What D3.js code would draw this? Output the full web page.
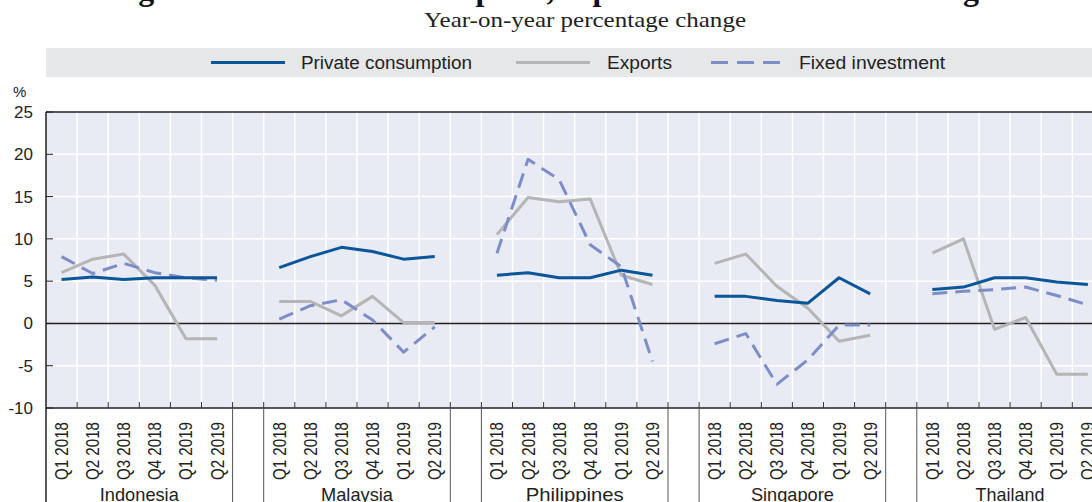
<!DOCTYPE html>
<html>
<head>
<meta charset="utf-8">
<script src="https://cdn.jsdelivr.net/npm/d3@7"></script>
<style>
  html, body { margin: 0; padding: 0; background: #fff; overflow: hidden; }
  svg { display: block; }
  .sans { font-family: "Liberation Sans", Arial, sans-serif; }
</style>
</head>
<body>
<svg id="chart" width="1092" height="502"></svg>
<script>
// ---------- data ----------
const countries = ["Indonesia", "Malaysia", "Philippines", "Singapore", "Thailand"];
const quarters = ["Q1 2018", "Q2 2018", "Q3 2018", "Q4 2018", "Q1 2019", "Q2 2019"];
const seriesNames = ["Private consumption", "Exports", "Fixed investment"];
const yTicks = [-10, -5, 0, 5, 10, 15, 20, 25];

// one row per country, in the order of `countries`
const privateConsumption = [
  [5.2, 5.5, 5.2, 5.4, 5.4, 5.4],
  [6.6, 7.9, 9.0, 8.5, 7.6, 7.9],
  [5.7, 6.0, 5.4, 5.4, 6.3, 5.7],
  [3.2, 3.2, 2.7, 2.4, 5.4, 3.5],
  [4.0, 4.3, 5.4, 5.4, 4.9, 4.6]
];
const exportsGrowth = [
  [6.0, 7.6, 8.2, 4.5, -1.8, -1.8],
  [2.6, 2.6, 0.9, 3.2, 0.1, 0.1],
  [10.5, 14.9, 14.4, 14.7, 5.7, 4.6],
  [7.1, 8.2, 4.4, 1.8, -2.1, -1.4],
  [8.3, 10.0, -0.7, 0.7, -6.0, -6.0]
];
const fixedInvestment = [
  [7.9, 5.9, 7.1, 6.0, 5.4, 5.1],
  [0.5, 2.1, 2.8, 0.4, -3.4, -0.4],
  [8.3, 19.4, 17.0, 9.3, 6.7, -4.5],
  [-2.4, -1.2, -7.2, -4.3, -0.2, -0.2],
  [3.5, 3.8, 4.0, 4.3, 3.3, 2.2]
];

// ---------- styles ----------
const colors = ["#0a5698", "#b5b5b5", "#7d8ec6"];
const dashes = [null, null, "15,8"];
const seriesData = [privateConsumption, exportsGrowth, fixedInvestment];
const legendTextWidths = [171, 65, 146];
const countryLabelWidths = [79, 72, 98, 83, 69];

// ---------- layout ----------
const svg = d3.select("#chart");
const plot = { left: 46, top: 112, bottom: 408 };
const slotW = 31.1;

// slots: 6 quarters per country, one empty slot between countries
const slots = [];
countries.forEach((c, ci) => {
  quarters.forEach(q => slots.push(c + "|" + q));
  if (ci < countries.length - 1) slots.push("gap" + ci);
});
const x = d3.scaleBand().domain(slots).range([plot.left, plot.left + slots.length * slotW]).padding(0);
const y = d3.scaleLinear().domain([-10, 25]).range([plot.bottom, plot.top]);
const plotRight = plot.left + slots.length * slotW;

// title (mostly cut off at top)
svg.append("text")
  .attr("x", 585).attr("y", 0)
  .attr("text-anchor", "middle")
  .attr("font-family", "Liberation Serif, serif")
  .attr("font-weight", "bold")
  .attr("font-size", 32)
  .attr("textLength", 950).attr("lengthAdjust", "spacingAndGlyphs")
  .attr("fill", "#111")
  .text("Figure 1.2. Private consumption, exports and fixed investment growth");

// subtitle
svg.append("text")
  .attr("x", 585).attr("y", 27)
  .attr("text-anchor", "middle")
  .attr("font-family", "Liberation Serif, serif")
  .attr("font-size", 22)
  .attr("textLength", 322).attr("lengthAdjust", "spacingAndGlyphs")
  .attr("fill", "#222")
  .text("Year-on-year percentage change");

// legend
svg.append("rect").attr("x", 46).attr("y", 48).attr("width", 1092 - 46 + 20).attr("height", 29).attr("fill", "#e6e7e9");
const legendItems = [
  { x1: 211, tx: 301 },
  { x1: 516, tx: 607 },
  { x1: 711, tx: 799 }
];
legendItems.forEach((it, i) => {
  svg.append("line")
    .attr("x1", it.x1).attr("x2", it.x1 + 74).attr("y1", 62.5).attr("y2", 62.5)
    .attr("stroke", colors[i]).attr("stroke-width", 3)
    .attr("stroke-dasharray", i === 2 ? "17,9" : null);
  svg.append("text").attr("class", "sans")
    .attr("x", it.tx).attr("y", 69)
    .attr("font-size", 18)
    .attr("textLength", legendTextWidths[i]).attr("lengthAdjust", "spacingAndGlyphs")
    .attr("fill", "#222")
    .text(seriesNames[i]);
});

// plot background
svg.append("rect")
  .attr("x", plot.left).attr("y", plot.top)
  .attr("width", plotRight - plot.left).attr("height", plot.bottom - plot.top)
  .attr("fill", "#e8eaf4");

// vertical grid lines at slot boundaries
const boundaries = slots.map(s => x(s)).slice(1).concat([plotRight]);
svg.append("g").selectAll("line").data(boundaries).join("line")
  .attr("x1", d => d).attr("x2", d => d)
  .attr("y1", plot.top).attr("y2", plot.bottom)
  .attr("stroke", "#fff").attr("stroke-width", 1.5);

// horizontal grid lines
svg.append("g").selectAll("line").data(yTicks.filter(v => v !== -10 && v !== 25 && v !== 0)).join("line")
  .attr("x1", plot.left).attr("x2", plotRight)
  .attr("y1", d => y(d)).attr("y2", d => y(d))
  .attr("stroke", "#fff").attr("stroke-width", 1.5);

// zero line
svg.append("line")
  .attr("x1", plot.left).attr("x2", plotRight)
  .attr("y1", y(0)).attr("y2", y(0))
  .attr("stroke", "#222").attr("stroke-width", 1.5);

// y axis
const yAxis = d3.axisLeft(y).tickValues(yTicks).tickSize(0).tickPadding(13).tickFormat(d => String(d));
const yg = svg.append("g").attr("transform", `translate(${plot.left},0)`).call(yAxis);
yg.select(".domain").remove();
yg.selectAll("text")
  .attr("font-family", "Liberation Sans, Arial, sans-serif")
  .attr("font-size", 17).attr("fill", "#222");
// inner tick marks
svg.append("g").selectAll("line").data(yTicks).join("line")
  .attr("x1", plot.left).attr("x2", plot.left + 7)
  .attr("y1", d => y(d)).attr("y2", d => y(d))
  .attr("stroke", "#222").attr("stroke-width", 1);

svg.append("text")
  .attr("x", 13).attr("y", 97)
  .attr("font-family", "Liberation Sans, Arial, sans-serif")
  .attr("font-size", 15).attr("fill", "#222")
  .text("%");

// frame: top and left, bottom axis
svg.append("line").attr("x1", plot.left).attr("x2", plotRight).attr("y1", plot.top).attr("y2", plot.top)
  .attr("stroke", "#222").attr("stroke-width", 1.5);
svg.append("line").attr("x1", plot.left).attr("x2", plot.left).attr("y1", plot.top).attr("y2", 502)
  .attr("stroke", "#222").attr("stroke-width", 1.5);

// x axis (bottom)
const xAxis = d3.axisBottom(x).tickValues(slots.filter(s => !s.startsWith("gap"))).tickSize(0).tickFormat(d => d.split("|")[1]);
const xg = svg.append("g").attr("transform", `translate(0,${plot.bottom})`).call(xAxis);
xg.select(".domain").attr("d", `M${plot.left},0H${plotRight}`).attr("stroke", "#222").attr("stroke-width", 1.5);
xg.selectAll(".tick text")
  .attr("font-family", "Liberation Sans, Arial, sans-serif")
  .attr("font-size", 18).attr("fill", "#222")
  .attr("transform", "rotate(-90)")
  .attr("text-anchor", "end")
  .attr("textLength", 58).attr("lengthAdjust", "spacingAndGlyphs")
  .attr("x", -14).attr("y", 0).attr("dy", "0.36em");

// small tick marks at slot boundaries (pointing up)
svg.append("g").selectAll("line").data(boundaries).join("line")
  .attr("x1", d => d).attr("x2", d => d)
  .attr("y1", plot.bottom - 6).attr("y2", plot.bottom)
  .attr("stroke", "#333").attr("stroke-width", 1);

// group separators in label area
const sepXs = [];
countries.forEach((c, ci) => {
  const first = x(c + "|" + quarters[0]);
  const last = x(c + "|" + quarters[quarters.length - 1]) + x.bandwidth();
  if (ci > 0) sepXs.push(first);
  sepXs.push(last);
});
svg.append("g").selectAll("line").data(sepXs).join("line")
  .attr("x1", d => d).attr("x2", d => d)
  .attr("y1", plot.bottom).attr("y2", 502)
  .attr("stroke", "#555").attr("stroke-width", 1);

// country labels
svg.append("g").selectAll("text").data(countries).join("text")
  .attr("x", c => (x(c + "|" + quarters[0]) + x(c + "|" + quarters[5]) + x.bandwidth()) / 2)
  .attr("y", 501)
  .attr("text-anchor", "middle")
  .attr("font-family", "Liberation Sans, Arial, sans-serif")
  .attr("font-size", 19)
  .attr("textLength", (c, i) => countryLabelWidths[i]).attr("lengthAdjust", "spacingAndGlyphs")
  .attr("fill", "#222")
  .text(c => c);

// lines
const line = d3.line()
  .x(d => x(d.slot) + x.bandwidth() / 2)
  .y(d => y(d.v));

[1, 2, 0].forEach(si => {
  countries.forEach((c, ci) => {
    const pts = quarters.map((q, qi) => ({ slot: c + "|" + q, v: seriesData[si][ci][qi] }));
    svg.append("path")
      .attr("d", line(pts))
      .attr("fill", "none")
      .attr("stroke", colors[si])
      .attr("stroke-width", 3)
      .attr("stroke-linejoin", "round")
      .attr("stroke-dasharray", dashes[si]);
  });
});
</script>
</body>
</html>
